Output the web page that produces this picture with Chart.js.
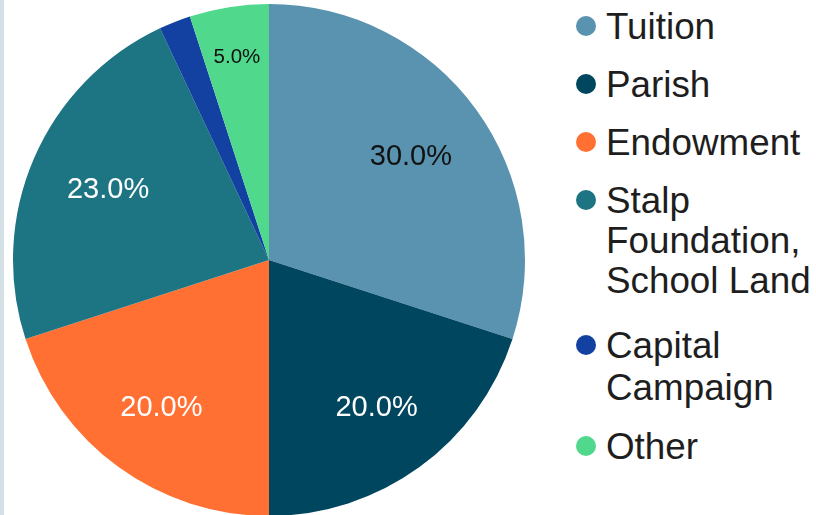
<!DOCTYPE html>
<html>
<head>
<meta charset="utf-8">
<script src="https://cdn.jsdelivr.net/npm/chart.js@4"></script>
<style>
  html, body { margin: 0; padding: 0; width: 816px; height: 515px; overflow: hidden; background: #ffffff; }
  #strip { position: absolute; left: 0; top: 0; width: 4px; height: 515px; background: #d3e0e6; }
  #pieBox { position: absolute; left: 0; top: 0; width: 538px; height: 520px; }
  #legend { position: absolute; left: 606px; top: 7px; width: 210px;
            font-family: "Liberation Sans", Arial, sans-serif; font-size: 36.8px; color: #1e1e1e; }
  .item { position: relative; line-height: 40px; margin-bottom: 18px; white-space: normal; }
  .item:nth-child(4) { margin-bottom: 24px; }
  .item:nth-child(5) { line-height: 42px; }
  .dot { position: absolute; left: -30px; top: 9px; width: 20px; height: 20px; border-radius: 50%; }
  .item:nth-child(5) .dot { top: 10px; }
</style>
</head>
<body>
<div id="strip"></div>
<div id="pieBox"><canvas id="c"></canvas></div>
<div id="legend"></div>
<script>
const categories = ["Tuition", "Parish", "Endowment", "Stalp Foundation, School Land", "Capital Campaign", "Other"];
const shares = [30, 20, 20, 23, 2, 5];
const sliceLabels = ["30.0%", "20.0%", "20.0%", "23.0%", "", "5.0%"];
const colors = ["#5a93b0", "#00465f", "#ff7032", "#1d7482", "#1341a2", "#50d88c"];
const labelColors = ["#111111", "#ffffff", "#ffffff", "#ffffff", "#ffffff", "#111111"];
const labelFonts = [29, 29, 29, 29, 20, 20.5];
const labelRadius = [0.685, 0.715, 0.715, 0.685, 0.7, 0.80];

const sliceLabelPlugin = {
  id: 'sliceLabels',
  afterDatasetsDraw(chart) {
    const ctx = chart.ctx;
    const meta = chart.getDatasetMeta(0);
    meta.data.forEach((arc, i) => {
      const txt = sliceLabels[i];
      if (!txt) return;
      const p = arc.getProps(['x', 'y', 'startAngle', 'endAngle', 'outerRadius'], true);
      const mid = (p.startAngle + p.endAngle) / 2;
      const r = p.outerRadius * labelRadius[i];
      const x = p.x + Math.cos(mid) * r;
      const y = p.y + Math.sin(mid) * r;
      ctx.save();
      ctx.font = labelFonts[i] + 'px "Liberation Sans", Arial, sans-serif';
      ctx.fillStyle = labelColors[i];
      ctx.textAlign = 'center';
      ctx.textBaseline = 'middle';
      ctx.fillText(txt, x, y);
      ctx.restore();
    });
  }
};

new Chart(document.getElementById('c'), {
  type: 'pie',
  data: {
    labels: categories,
    datasets: [{
      data: shares,
      backgroundColor: colors,
      borderWidth: 0
    }]
  },
  options: {
    responsive: true,
    maintainAspectRatio: false,
    animation: false,
    events: [],
    layout: { padding: 4 },
    plugins: {
      legend: { display: false },
      tooltip: { enabled: false }
    }
  },
  plugins: [sliceLabelPlugin]
});

const legend = document.getElementById('legend');
categories.forEach((name, i) => {
  const item = document.createElement('div');
  item.className = 'item';
  const dot = document.createElement('span');
  dot.className = 'dot';
  dot.style.background = colors[i];
  item.appendChild(dot);
  item.appendChild(document.createTextNode(name));
  legend.appendChild(item);
});
</script>
</body>
</html>
